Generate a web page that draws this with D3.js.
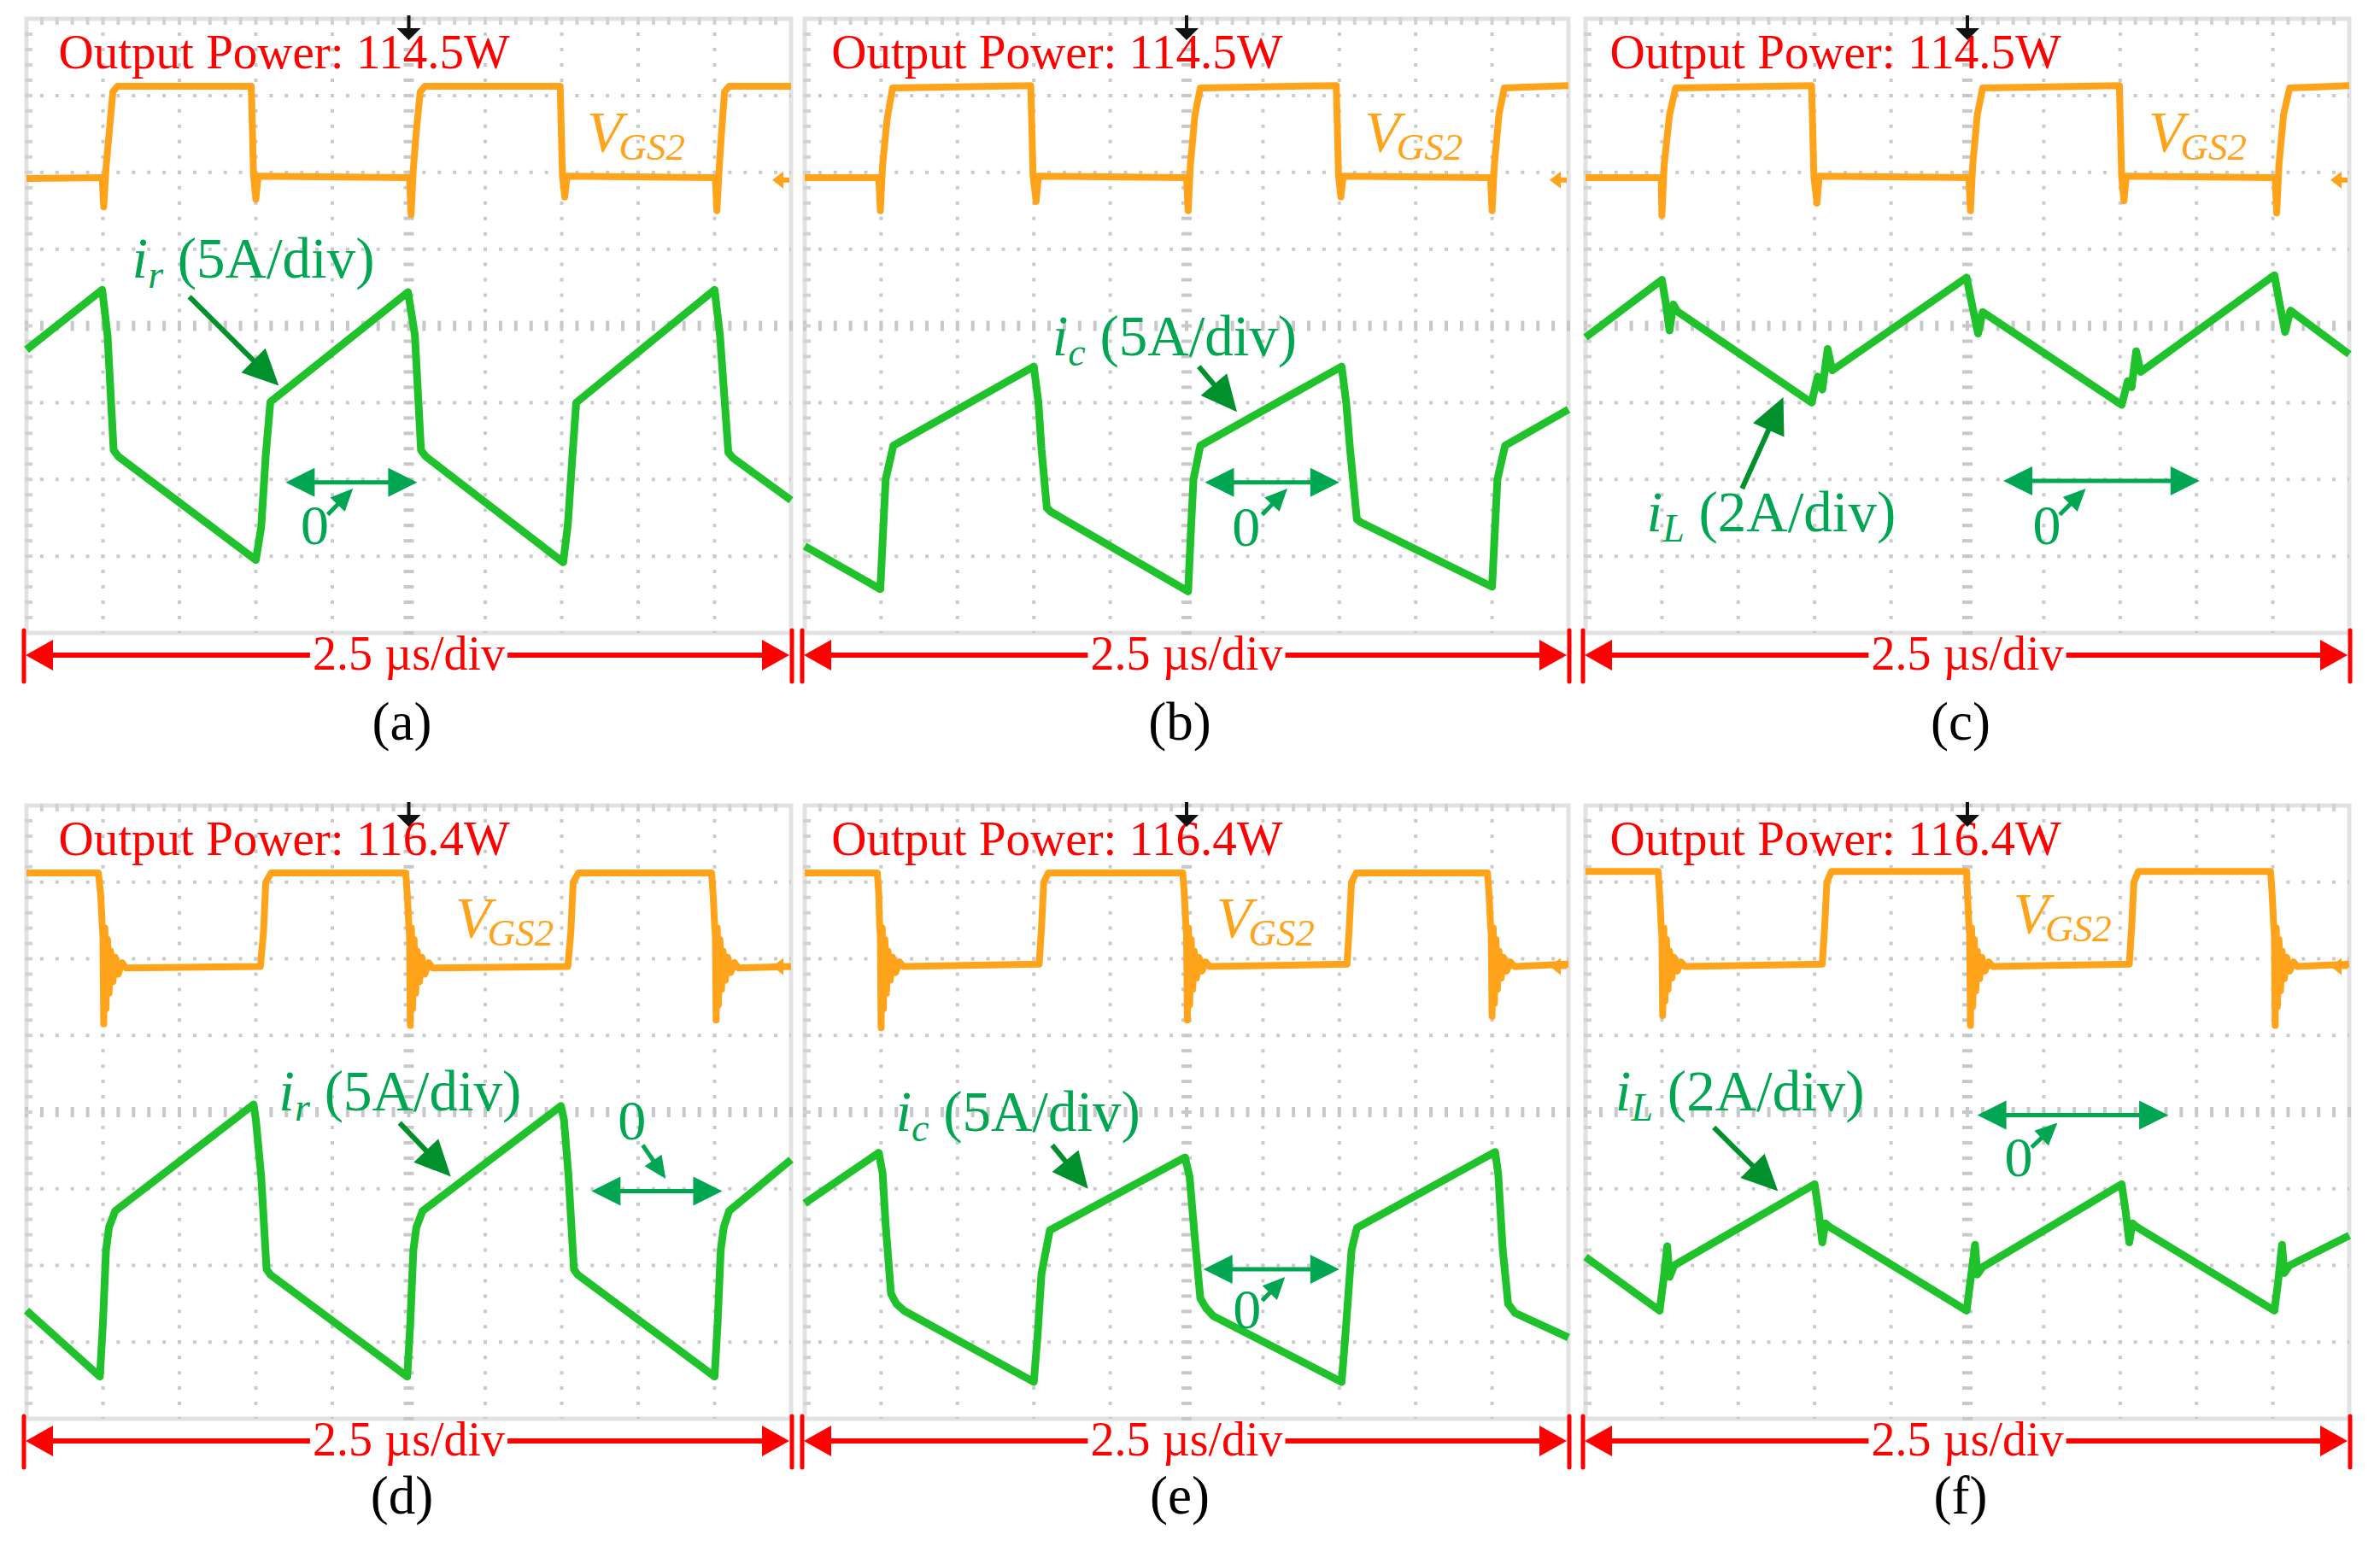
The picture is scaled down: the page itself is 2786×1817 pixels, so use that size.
<!DOCTYPE html>
<html>
<head>
<meta charset="utf-8">
<script src="https://cdn.jsdelivr.net/npm/d3@7"></script>
<style>
  body { margin: 0; background: #fff; }
  text { font-family: "Liberation Serif", "Times New Roman", serif; }
</style>
</head>
<body>
<div id="chart"></div>
<script>
var vgs_a = [[0,1.92],[0.99,1.93],[1.01,1.55],[1.04,2.05],[1.08,2.5],[1.13,3.05],[1.19,3.12],[2.94,3.12],[2.97,1.96],[3.0,1.65],[3.03,1.95],[5.01,1.93],[5.03,1.45],[5.06,2.05],[5.1,2.55],[5.15,3.05],[5.21,3.12],[6.98,3.12],[7.01,1.96],[7.04,1.68],[7.07,1.95],[9.01,1.93],[9.03,1.5],[9.06,2.05],[9.09,2.5],[9.13,3.05],[9.19,3.12],[10,3.12]];
var ir_a = [[0,-0.31],[0.99,0.47],[1.06,-0.12],[1.14,-1.62],[1.2,-1.7],[3.0,-3.05],[3.07,-2.62],[3.13,-1.68],[3.19,-0.99],[4.99,0.44],[5.08,-0.12],[5.16,-1.62],[5.22,-1.7],[7.02,-3.08],[7.08,-2.6],[7.14,-1.7],[7.19,-1.0],[9.0,0.47],[9.07,-0.12],[9.18,-1.65],[9.24,-1.72],[10,-2.27]];

var vgs_b = [[0,1.93],[0.97,1.93],[0.99,1.5],[1.02,2.1],[1.08,2.7],[1.15,3.1],[2.96,3.13],[2.99,1.95],[3.03,1.62],[3.06,1.95],[5.0,1.93],[5.02,1.5],[5.05,2.1],[5.11,2.75],[5.18,3.1],[6.96,3.13],[6.99,1.95],[7.02,1.68],[7.05,1.95],[8.98,1.93],[9.0,1.5],[9.03,2.1],[9.09,2.75],[9.16,3.1],[10,3.13]];
var ic_b = [[0,-2.87],[0.99,-3.43],[1.03,-2.6],[1.06,-2.0],[1.16,-1.56],[3.0,-0.53],[3.06,-1.0],[3.1,-1.6],[3.17,-2.37],[3.22,-2.42],[5.02,-3.46],[5.06,-2.6],[5.09,-2.0],[5.18,-1.56],[7.03,-0.53],[7.09,-1.0],[7.14,-1.6],[7.23,-2.52],[7.28,-2.56],[9.0,-3.4],[9.04,-2.6],[9.07,-2.0],[9.17,-1.56],[10,-1.09]];

var vgs_c = [[0,1.93],[0.99,1.93],[1.0,1.44],[1.03,2.1],[1.1,2.75],[1.18,3.1],[2.96,3.13],[2.99,1.95],[3.03,1.6],[3.06,1.95],[5.02,1.93],[5.04,1.5],[5.07,2.1],[5.13,2.75],[5.2,3.1],[6.99,3.13],[7.02,1.95],[7.05,1.63],[7.08,1.95],[9.03,1.93],[9.05,1.47],[9.08,2.1],[9.14,2.75],[9.22,3.1],[10,3.13]];
var iL_c = [[0,-0.15],[1.0,0.6],[1.05,0.3],[1.1,-0.06],[1.15,0.28],[1.2,0.19],[2.96,-1.0],[3.04,-0.66],[3.1,-0.83],[3.17,-0.3],[3.23,-0.58],[4.99,0.63],[5.06,0.28],[5.14,-0.1],[5.2,0.18],[7.02,-1.03],[7.1,-0.72],[7.15,-0.8],[7.21,-0.33],[7.27,-0.6],[9.02,0.66],[9.09,0.28],[9.16,-0.08],[9.23,0.2],[10,-0.37]];

var vgs_d = [[0,3.12],[0.94,3.12],[0.97,2.85],[0.99,2.45],[1.0,2.3],[1.01,1.15],[1.025,2.4],[1.04,1.35],[1.06,2.25],[1.08,1.55],[1.1,2.1],[1.13,1.7],[1.16,2.02],[1.2,1.8],[1.25,1.95],[1.3,1.88],[3.06,1.9],[3.1,2.35],[3.13,3.0],[3.2,3.12],[4.96,3.12],[4.98,2.85],[5.0,2.45],[5.01,2.3],[5.02,1.13],[5.035,2.4],[5.05,1.35],[5.07,2.25],[5.09,1.55],[5.11,2.1],[5.14,1.7],[5.17,2.02],[5.21,1.8],[5.26,1.95],[5.31,1.88],[7.08,1.9],[7.12,2.35],[7.15,3.0],[7.22,3.12],[8.96,3.12],[8.98,2.85],[9.0,2.45],[9.01,2.3],[9.02,1.2],[9.035,2.4],[9.05,1.4],[9.07,2.25],[9.09,1.6],[9.11,2.1],[9.14,1.72],[9.17,2.02],[9.21,1.82],[9.26,1.95],[9.31,1.88],[10,1.9]];
var ir_d = [[0,-2.59],[0.96,-3.45],[1.0,-2.75],[1.04,-1.8],[1.08,-1.5],[1.16,-1.29],[2.97,0.1],[3.0,-0.1],[3.07,-0.84],[3.14,-2.05],[3.19,-2.12],[4.98,-3.45],[5.02,-2.75],[5.06,-1.8],[5.1,-1.5],[5.18,-1.29],[6.99,0.08],[7.03,-0.1],[7.09,-0.84],[7.16,-2.05],[7.21,-2.12],[9.0,-3.45],[9.04,-2.75],[9.08,-1.8],[9.12,-1.5],[9.19,-1.29],[10,-0.62]];

var vgs_e = [[0,3.12],[0.95,3.12],[0.97,2.85],[0.98,2.45],[0.99,2.3],[1.0,1.1],[1.015,2.4],[1.03,1.35],[1.05,2.25],[1.07,1.55],[1.09,2.1],[1.12,1.72],[1.15,2.02],[1.19,1.82],[1.24,1.96],[1.29,1.9],[3.07,1.93],[3.1,2.4],[3.13,3.0],[3.19,3.12],[4.95,3.12],[4.97,2.85],[4.99,2.45],[5.0,2.3],[5.01,1.2],[5.025,2.4],[5.04,1.4],[5.06,2.25],[5.08,1.6],[5.1,2.1],[5.13,1.75],[5.16,2.02],[5.2,1.84],[5.25,1.96],[5.3,1.9],[7.1,1.93],[7.13,2.4],[7.16,3.0],[7.22,3.12],[8.94,3.12],[8.96,2.85],[8.98,2.45],[8.99,2.3],[9.0,1.25],[9.015,2.4],[9.03,1.42],[9.05,2.25],[9.07,1.6],[9.09,2.1],[9.12,1.75],[9.15,2.02],[9.19,1.84],[9.24,1.96],[9.29,1.9],[10,1.93]];
var ic_e = [[0,-1.19],[0.97,-0.53],[1.02,-0.8],[1.06,-1.48],[1.13,-2.37],[1.2,-2.5],[1.3,-2.59],[3.0,-3.52],[3.05,-2.9],[3.1,-2.11],[3.21,-1.54],[4.98,-0.59],[5.04,-0.85],[5.11,-1.67],[5.18,-2.43],[5.25,-2.55],[5.35,-2.66],[7.03,-3.52],[7.08,-2.9],[7.16,-1.8],[7.23,-1.51],[9.04,-0.52],[9.08,-0.8],[9.14,-1.8],[9.21,-2.5],[9.3,-2.62],[10,-2.94]];

var vgs_f = [[0,3.14],[0.95,3.14],[0.97,2.85],[0.99,2.45],[1.0,2.3],[1.01,1.26],[1.025,2.4],[1.04,1.45],[1.06,2.25],[1.08,1.6],[1.1,2.1],[1.13,1.75],[1.16,2.02],[1.2,1.84],[1.25,1.96],[1.3,1.9],[3.1,1.93],[3.13,2.4],[3.16,3.0],[3.22,3.14],[4.99,3.14],[5.0,2.85],[5.02,2.45],[5.03,2.3],[5.04,1.13],[5.055,2.4],[5.07,1.38],[5.09,2.25],[5.11,1.58],[5.13,2.1],[5.16,1.74],[5.19,2.02],[5.23,1.84],[5.28,1.96],[5.33,1.9],[7.12,1.93],[7.15,2.4],[7.18,3.0],[7.24,3.14],[8.97,3.14],[8.99,2.85],[9.01,2.45],[9.02,2.3],[9.03,1.13],[9.045,2.4],[9.06,1.38],[9.08,2.25],[9.1,1.58],[9.12,2.1],[9.15,1.74],[9.18,2.02],[9.22,1.84],[9.27,1.96],[9.32,1.9],[10,1.93]];
var iL_f = [[0,-1.89],[0.97,-2.59],[1.02,-2.2],[1.07,-1.75],[1.1,-2.15],[1.16,-2.0],[3.0,-0.94],[3.05,-1.28],[3.1,-1.7],[3.14,-1.45],[3.2,-1.5],[4.99,-2.59],[5.04,-2.2],[5.1,-1.73],[5.13,-2.12],[5.2,-2.02],[7.02,-0.94],[7.07,-1.28],[7.12,-1.7],[7.16,-1.45],[7.22,-1.5],[9.02,-2.59],[9.07,-2.2],[9.12,-1.73],[9.15,-2.1],[9.22,-2.0],[10,-1.61]];

var powers = ["114.5W", "114.5W", "114.5W", "116.4W", "116.4W", "116.4W"];
var curSym = ["r", "c", "L", "r", "c", "L"];
var curScale = ["5A/div", "5A/div", "2A/div", "5A/div", "5A/div", "2A/div"];
var zeroLevels = [-2.04, -2.04, -2.02, -1.03, -2.05, -0.04];
var captions = ["(a)", "(b)", "(c)", "(d)", "(e)", "(f)"];
var timeBase = "2.5 \u00b5s/div";

var vgsData = [vgs_a, vgs_b, vgs_c, vgs_d, vgs_e, vgs_f];
var curData = [ir_a, ic_b, iL_c, ir_d, ic_e, iL_f];

// annotation placement, in screen divisions
var notes = [
  {label: [1.38, 0.63], arrow: [[2.13, 0.38], [3.3, -0.78]], zero: [3.39, 5.11], zeroText: [3.77, -2.84], zeroArrow: [[3.94, -2.46], [4.27, -2.12]], vgs: [7.33, 2.28], power: 0.42},
  {label: [3.24, -0.38], arrow: [[5.16, -0.53], [5.66, -1.12]], zero: [5.24, 7.0], zeroText: [5.78, -2.87], zeroArrow: [[5.99, -2.46], [6.32, -2.12]], vgs: [7.33, 2.28], power: 0.35},
  {label: [0.8, -2.68], arrow: [[2.05, -2.12], [2.59, -0.93]], zero: [5.47, 8.04], zeroText: [6.04, -2.84], zeroArrow: [[6.21, -2.46], [6.55, -2.12]], vgs: [7.37, 2.28], power: 0.32},
  {label: [3.3, 0.02], arrow: [[4.88, -0.14], [5.55, -0.84]], zero: [7.39, 9.1], zeroText: [7.92, -0.36], zeroArrow: [[8.06, -0.43], [8.36, -0.87]], vgs: [5.61, 2.28], power: 0.42},
  {label: [1.19, -0.24], arrow: [[3.24, -0.43], [3.71, -1.0]], zero: [5.22, 7.0], zeroText: [5.79, -2.82], zeroArrow: [[5.99, -2.46], [6.29, -2.15]], vgs: [5.39, 2.28], power: 0.35},
  {label: [0.39, 0.02], arrow: [[1.68, -0.2], [2.52, -1.03]], zero: [5.13, 7.63], zeroText: [5.67, -0.84], zeroArrow: [[5.84, -0.46], [6.18, -0.14]], vgs: [5.6, 2.34], power: 0.32}
];

var W = 2786, H = 1817;
var cols = [[31, 926], [942, 1836], [1856, 2750]];
var rows = [[22, 741], [943, 1661]];
var captionY = [866, 1772];

var orange = "#ffa31a", green = "#1fc22b", textGreen = "#00a651", arrowGreen = "#00912c", red = "#ff0000";

var svg = d3.select("#chart").append("svg")
  .attr("width", W)
  .attr("height", H)
  .style("background", "#fff");

function head(g, tip, ux, uy, len, half, color) {
  var bx = tip[0] - ux * len, by = tip[1] - uy * len;
  g.append("polygon")
    .attr("points", [[tip[0], tip[1]], [bx - uy * half, by + ux * half], [bx + uy * half, by - ux * half]].join(" "))
    .attr("fill", color);
}

function arrow(g, p1, p2, color, width, len, half, both) {
  var dx = p2[0] - p1[0], dy = p2[1] - p1[1], L = Math.hypot(dx, dy);
  var ux = dx / L, uy = dy / L;
  var s = both ? [p1[0] + ux * len * 0.7, p1[1] + uy * len * 0.7] : p1;
  g.append("line")
    .attr("x1", s[0]).attr("y1", s[1])
    .attr("x2", p2[0] - ux * len * 0.7).attr("y2", p2[1] - uy * len * 0.7)
    .attr("stroke", color).attr("stroke-width", width);
  head(g, p2, ux, uy, len, half, color);
  if (both) head(g, p1, -ux, -uy, len, half, color);
}

function drawGrid(g, x, y) {
  var grid = g.append("g");
  var stepX = x(0.2) - x(0), stepY = y(0) - y(0.2);
  // frame
  grid.append("rect")
    .attr("x", x(0)).attr("y", y(4))
    .attr("width", x(10) - x(0)).attr("height", y(-4) - y(4))
    .attr("fill", "none").attr("stroke", "#e2e2e2").attr("stroke-width", 5);
  // dotted division lines
  d3.range(1, 10).filter(function(k) { return k !== 5; }).forEach(function(k) {
    grid.append("line")
      .attr("x1", x(k)).attr("x2", x(k)).attr("y1", y(4)).attr("y2", y(-4))
      .attr("stroke", "#cacaca").attr("stroke-width", 4)
      .attr("stroke-dasharray", "4 " + (stepY - 4)).attr("stroke-dashoffset", 2);
  });
  d3.range(-3, 4).filter(function(k) { return k !== 0; }).forEach(function(k) {
    grid.append("line")
      .attr("x1", x(0)).attr("x2", x(10)).attr("y1", y(k)).attr("y2", y(k))
      .attr("stroke", "#cacaca").attr("stroke-width", 4)
      .attr("stroke-dasharray", "4 " + (stepX - 4)).attr("stroke-dashoffset", 2);
  });
  // centre axes with minor ticks
  grid.selectAll(".tx").data(d3.range(0, 51)).enter().append("line")
    .attr("x1", function(d) { return x(d * 0.2); }).attr("x2", function(d) { return x(d * 0.2); })
    .attr("y1", y(0) - 6).attr("y2", y(0) + 6)
    .attr("stroke", "#c8c8c8").attr("stroke-width", 4);
  grid.selectAll(".ty").data(d3.range(0, 41)).enter().append("line")
    .attr("y1", function(d) { return y(-4 + d * 0.2); }).attr("y2", function(d) { return y(-4 + d * 0.2); })
    .attr("x1", x(5) - 6).attr("x2", x(5) + 6)
    .attr("stroke", "#c8c8c8").attr("stroke-width", 4);
  // frame ticks
  grid.selectAll(".fx").data(d3.range(1, 50)).enter().append("line")
    .attr("x1", function(d) { return x(d * 0.2); }).attr("x2", function(d) { return x(d * 0.2); })
    .attr("y1", y(4) - 2).attr("y2", y(4) + 7)
    .attr("stroke", "#d2d2d2").attr("stroke-width", 4);
  grid.selectAll(".fy").data(d3.range(1, 40)).enter().append("line")
    .attr("y1", function(d) { return y(-4 + d * 0.2); }).attr("y2", function(d) { return y(-4 + d * 0.2); })
    .attr("x1", x(0) - 2).attr("x2", x(0) + 7)
    .attr("stroke", "#d2d2d2").attr("stroke-width", 4);
}

vgsData.forEach(function(vgs, i) {
  var cx = cols[i % 3], ry = rows[Math.floor(i / 3)];
  var x = d3.scaleLinear().domain([0, 10]).range(cx);
  var y = d3.scaleLinear().domain([-4, 4]).range([ry[1], ry[0]]);
  var n = notes[i];
  var g = svg.append("g");

  drawGrid(g, x, y);

  var line = d3.line().x(function(d) { return x(d[0]); }).y(function(d) { return y(d[1]); });

  g.append("path").datum(vgs).attr("d", line)
    .attr("fill", "none").attr("stroke", orange).attr("stroke-width", 8)
    .attr("stroke-linejoin", "round");
  g.append("path").datum(curData[i]).attr("d", line)
    .attr("fill", "none").attr("stroke", green).attr("stroke-width", 9)
    .attr("stroke-linejoin", "round");

  // channel marker on the right edge
  var my = y(1.9), mx = x(10);
  g.append("polygon")
    .attr("points", [[mx - 22, my], [mx - 9, my - 10], [mx - 9, my + 10]].join(" "))
    .attr("fill", orange);
  g.append("line").attr("x1", mx - 10).attr("x2", mx - 2).attr("y1", my).attr("y2", my)
    .attr("stroke", orange).attr("stroke-width", 6);

  // output power
  g.append("text")
    .attr("x", x(n.power)).attr("y", y(3.35))
    .attr("font-size", 57).attr("fill", red)
    .text("Output Power: " + powers[i]);

  // trigger marker
  var tx = x(5), ty = y(4);
  g.append("line").attr("x1", tx).attr("x2", tx).attr("y1", ty - 4).attr("y2", ty + 13)
    .attr("stroke", "#111").attr("stroke-width", 4);
  g.append("polygon")
    .attr("points", [[tx - 14, ty + 11], [tx + 14, ty + 11], [tx, ty + 25]].join(" "))
    .attr("fill", "#111");

  // V_GS2 label
  var vl = g.append("text")
    .attr("x", x(n.vgs[0])).attr("y", y(n.vgs[1]))
    .attr("font-size", 68).attr("fill", orange).attr("font-style", "italic");
  vl.append("tspan").text("V");
  vl.append("tspan").attr("font-size", 45).attr("dy", 10).attr("dx", -4).text("GS2");

  // current label and pointer
  var cl = g.append("text")
    .attr("x", x(n.label[0])).attr("y", y(n.label[1]))
    .attr("font-size", 67).attr("fill", textGreen);
  cl.append("tspan").attr("font-style", "italic").text("i");
  cl.append("tspan").attr("font-style", "italic").attr("font-size", 46).attr("dy", 12).text(curSym[i]);
  cl.append("tspan").attr("dy", -12).text(" (" + curScale[i] + ")");
  arrow(g, [x(n.arrow[0][0]), y(n.arrow[0][1])], [x(n.arrow[1][0]), y(n.arrow[1][1])], arrowGreen, 6, 42, 20, false);

  // zero level marker
  arrow(g, [x(n.zero[0]), y(zeroLevels[i])], [x(n.zero[1]), y(zeroLevels[i])], textGreen, 5, 34, 17, true);
  g.append("text")
    .attr("x", x(n.zeroText[0])).attr("y", y(n.zeroText[1]))
    .attr("text-anchor", "middle").attr("font-size", 66).attr("fill", textGreen)
    .text("0");
  arrow(g, [x(n.zeroArrow[0][0]), y(n.zeroArrow[0][1])], [x(n.zeroArrow[1][0]), y(n.zeroArrow[1][1])], textGreen, 5, 26, 12, false);

  // time base arrow
  var ay = ry[1] + 26;
  arrow(g, [x(0) - 1, ay], [x(10) - 2, ay], red, 6, 32, 18, true);
  [x(0) - 3, x(10) + 1].forEach(function(bx) {
    g.append("line").attr("x1", bx).attr("x2", bx).attr("y1", ry[1] - 3).attr("y2", ry[1] + 57)
      .attr("stroke", red).attr("stroke-width", 5).attr("stroke-linecap", "round");
  });
  var tb = g.append("text")
    .attr("x", (cx[0] + cx[1]) / 2).attr("y", ay + 17)
    .attr("text-anchor", "middle").attr("font-size", 56).attr("fill", red)
    .text(timeBase);
  var bb = tb.node().getBBox();
  g.insert("rect", function() { return tb.node(); })
    .attr("x", bb.x - 3).attr("y", ay - 6).attr("width", bb.width + 6).attr("height", 12)
    .attr("fill", "#fff");

  // caption
  g.append("text")
    .attr("x", (cx[0] + cx[1]) / 2 - 8).attr("y", captionY[Math.floor(i / 3)])
    .attr("text-anchor", "middle").attr("font-size", 63).attr("fill", "#000")
    .text(captions[i]);
});
</script>
</body>
</html>
